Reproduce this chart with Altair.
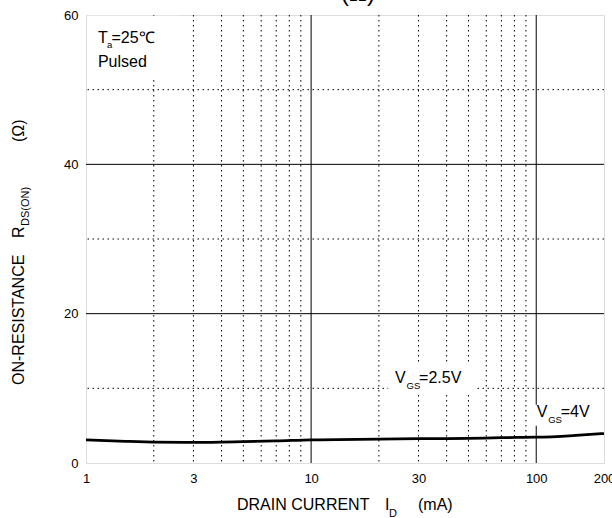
import altair as alt
import pandas as pd

# ---- data ----
x_ticks = [1, 3, 10, 30, 100, 200]
y_ticks = [0, 20, 40, 60]
x_major = [10, 100]
x_minor = [2, 3, 4, 5, 6, 7, 8, 9, 20, 30, 40, 50, 60, 70, 80, 90]
y_major = [20, 40]
y_minor = [10, 30, 50]

id_ma = [1, 1.5, 2, 3, 5, 7, 10, 20, 30, 50, 70, 100, 150, 200]
r_vgs25 = [3.15, 2.95, 2.85, 2.8, 2.9, 3.0, 3.15, 3.25, 3.3, 3.35, 3.45, 3.5, 3.75, 4.0]
r_vgs4 = [3.05, 2.85, 2.75, 2.7, 2.8, 2.9, 3.05, 3.15, 3.2, 3.25, 3.35, 3.4, 3.65, 3.9]

# label background boxes (data units)
box_x = [1.02, 22.0, 97.0]
box_x2 = [2.6, 53.0, 190.0]
box_y = [51.6, 9.3, 5.0]
box_y2 = [59.9, 13.4, 7.8]

# annotation anchors (data units)
ann_main = ["V", "V", "T"]
ann_sub = ["GS", "GS", "a"]
ann_rest = ["=2.5V", "=4V", "=25℃"]
ann_x = [23.6, 100.5, 1.13]
ann_y = [10.7, 6.15, 56.3]
ann_subdx = [11.5, 11.5, 9.0]
ann_restdx = [24, 24, 13.5]

FONT = "Liberation Sans"
W, H = 518, 448

xs = alt.Scale(type="log", domain=[1, 200], nice=False)
ys = alt.Scale(type="linear", domain=[0, 60], nice=False, zero=False)
xaxis = alt.Axis(values=x_ticks, title=None, grid=False, ticks=False, domain=False,
                 labelPadding=9, labelFontSize=13, labelFont=FONT, labelColor="black",
                 format="~g", labelFlush=False)
yaxis = alt.Axis(values=y_ticks, title=None, grid=False, ticks=False, domain=False,
                 labelPadding=8, labelFontSize=13, labelFont=FONT, labelColor="black")

def X(f):
    return alt.X(f, scale=xs, axis=xaxis)

def Y(f):
    return alt.Y(f, scale=ys, axis=yaxis)

def vrules(vals, dash):
    df = pd.DataFrame({"x": vals})
    kw = dict(color="black", strokeWidth=1)
    if dash:
        kw["strokeDash"] = dash
    return alt.Chart(df).mark_rule(**kw).encode(x=X("x:Q"))

def hrules(vals, dash):
    df = pd.DataFrame({"y": vals})
    kw = dict(color="black", strokeWidth=1)
    if dash:
        kw["strokeDash"] = dash
    return alt.Chart(df).mark_rule(**kw).encode(y=Y("y:Q"))

dots = [1.5, 3.5]
grid = (vrules(x_minor, dots) + hrules(y_minor, dots) +
        vrules(x_major, None) + hrules(y_major, None))

boxes = alt.Chart(pd.DataFrame({"x": box_x, "x2": box_x2, "y": box_y, "y2": box_y2})).mark_rect(
    fill="white"
).encode(x=X("x:Q"), x2="x2:Q", y=Y("y:Q"), y2="y2:Q")

curve_df = pd.DataFrame({
    "id": id_ma * 2,
    "r": r_vgs25 + r_vgs4,
    "s": ["VGS=2.5V"] * len(id_ma) + ["VGS=4V"] * len(id_ma),
})
curves = alt.Chart(curve_df).mark_line(color="black", strokeWidth=2, interpolate="monotone").encode(
    x=X("id:Q"), y=Y("r:Q"), detail="s:N",
)

AF = 16
ann_df = pd.DataFrame({"m": ann_main, "s": ann_sub, "r": ann_rest, "x": ann_x, "y": ann_y,
                       "sdx": ann_subdx, "rdx": ann_restdx})
layers_ann = []
for i in range(len(ann_df)):
    row = ann_df.iloc[[i]]
    sdx = float(ann_df["sdx"].iloc[i])
    rdx = float(ann_df["rdx"].iloc[i])
    base = alt.Chart(row)
    layers_ann.append(base.mark_text(align="left", baseline="alphabetic", font=FONT, fontSize=AF,
                                     color="black").encode(text="m:N", x=X("x:Q"), y=Y("y:Q")))
    layers_ann.append(base.mark_text(align="left", baseline="alphabetic", font=FONT, fontSize=9.5,
                                     color="black", dx=sdx, dy=5.5).encode(
        text="s:N", x=X("x:Q"), y=Y("y:Q")))
    layers_ann.append(base.mark_text(align="left", baseline="alphabetic", font=FONT, fontSize=AF,
                                     color="black", dx=rdx).encode(text="r:N", x=X("x:Q"), y=Y("y:Q")))
pulsed = alt.Chart(pd.DataFrame({"x": [1.13], "y": [53.1], "t": ["Pulsed"]})).mark_text(
    align="left", baseline="alphabetic", font=FONT, fontSize=AF, color="black").encode(
    text="t:N", x=X("x:Q"), y=Y("y:Q"))

# axis titles (pixel positions relative to plot origin)
def ptext(txt, x, y, size, angle=0, align="left"):
    kw = dict(align=align, baseline="alphabetic", font=FONT, fontSize=size, color="black")
    if angle:
        kw["angle"] = angle
    return alt.Chart(pd.DataFrame({"t": [txt]})).mark_text(**kw).encode(
        text="t:N", x=alt.value(x), y=alt.value(y))

TF = 16
xtitle = (ptext("DRAIN CURRENT", 151, 495, TF) + ptext("I", 299, 495, TF) +
          ptext("D", 303, 502, 11) + ptext("(mA)", 332, 495, TF))
ytitle = (ptext("ON-RESISTANCE", -62, 370, TF, angle=270) + ptext("R", -62, 223, TF, angle=270) +
          ptext("DS(ON)", -57, 211, 11, angle=270) + ptext("(Ω)", -62, 127, TF, angle=270))
toptitle = ptext("(Ω)", 255, -14, 24)

chart = alt.layer(
    grid, boxes, curves, *layers_ann, pulsed, xtitle, ytitle, toptitle
).properties(
    width=W, height=H,
    autosize=alt.AutoSizeParams(type="none"),
    padding={"left": 86, "top": 15, "right": 8, "bottom": 55},
).configure_view(
    stroke="black", strokeWidth=1
).configure(background="white")

chart.save("out.html", embed_options={"renderer": "svg", "actions": False})
